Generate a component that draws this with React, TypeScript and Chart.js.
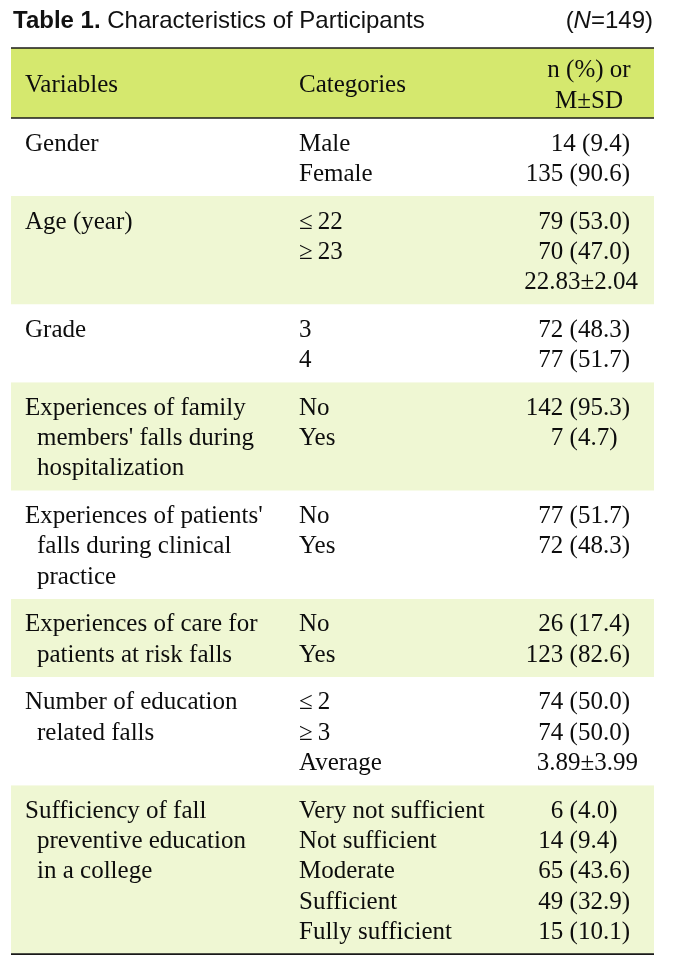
import React, { useEffect, useRef } from 'react';
import { Chart, registerables } from 'chart.js';

Chart.register(...registerables);

const titleBold = 'Table 1.';
const titleRest = ' Characteristics of Participants';
const sampleSize = ['(', 'N', '=149)'];
const headerVariables = 'Variables';
const headerCategories = 'Categories';
const headerValues = ['n (%) or', 'M±SD'];

const variables: string[][] = [
  ['Gender'],
  ['Age (year)'],
  ['Grade'],
  ['Experiences of family', "members' falls during", 'hospitalization'],
  ["Experiences of patients'", 'falls during clinical', 'practice'],
  ['Experiences of care for', 'patients at risk falls'],
  ['Number of education', 'related falls'],
  ['Sufficiency of fall', 'preventive education', 'in a college'],
];

const categories: string[][] = [
  ['Male', 'Female'],
  ['≤\u200922', '≥\u200923', ''],
  ['3', '4'],
  ['No', 'Yes'],
  ['No', 'Yes'],
  ['No', 'Yes'],
  ['≤\u20092', '≥\u20093', 'Average'],
  ['Very not sufficient', 'Not sufficient', 'Moderate', 'Sufficient', 'Fully sufficient'],
];

const values: string[][] = [
  ['14 (9.4)', '135 (90.6)'],
  ['79 (53.0)', '70 (47.0)', '22.83±2.04'],
  ['72 (48.3)', '77 (51.7)'],
  ['142 (95.3)', '7 (4.7)\u2007'],
  ['77 (51.7)', '72 (48.3)'],
  ['26 (17.4)', '123 (82.6)'],
  ['74 (50.0)', '74 (50.0)', '3.89±3.99'],
  ['6 (4.0)\u2007', '14 (9.4)\u2007', '65 (43.6)', '49 (32.9)', '15 (10.1)'],
];

const HEADER_GREEN = '#d5e86e';
const ROW_GREEN = '#eff7d3';
const SERIF = '"Liberation Serif", "Times New Roman", serif';
const SANS = '"Liberation Sans", Arial, sans-serif';

const TABLE_TOP = 48;
const HEADER_BOTTOM = 118;
const LINE_STEP = 30.3;
const GROUP_PAD = 17.4;
const FIRST_BASELINE = 32.5;

function groupLines(i: number) {
  return Math.max(variables[i].length, categories[i].length, values[i].length);
}

function groupBounds() {
  const out: [number, number][] = [];
  let y = HEADER_BOTTOM;
  for (let i = 0; i < variables.length; i++) {
    const h = GROUP_PAD + groupLines(i) * LINE_STEP;
    out.push([y, y + h]);
    y += h;
  }
  return out;
}

export default function App() {
  const ref = useRef<HTMLCanvasElement>(null);
  useEffect(() => {
    const bounds = groupBounds();
    const tableBottom = bounds[bounds.length - 1][1];
    const datasets: any[] = [
      {
        data: [[TABLE_TOP, HEADER_BOTTOM]],
        backgroundColor: HEADER_GREEN,
      },
      ...bounds.map((b, i) => ({
        data: [b],
        backgroundColor: i % 2 === 1 ? ROW_GREEN : '#ffffff',
      })),
    ].map((d) => ({
      ...d,
      borderWidth: 0,
      barPercentage: 1,
      categoryPercentage: 1,
      grouped: false,
      inflateAmount: 0,
    }));

    const tablePlugin = {
      id: 'tableText',
      afterDraw(chart: any) {
        const ctx = chart.ctx as CanvasRenderingContext2D;
        const ys = chart.scales.y;
        const area = chart.chartArea;
        const py = (v: number) => ys.getPixelForValue(v);
        ctx.save();
        ctx.fillStyle = '#111';
        ctx.textBaseline = 'alphabetic';
        // title
        const TS = 24;
        ctx.textAlign = 'left';
        ctx.font = `bold ${TS}px ${SANS}`;
        ctx.fillText(titleBold, 13, py(28));
        const wb = ctx.measureText(titleBold).width;
        ctx.font = `${TS}px ${SANS}`;
        ctx.fillText(titleRest, 13 + wb, py(28));
        // sample size, right-aligned
        const w0 = ctx.measureText(sampleSize[0]).width;
        const w2 = ctx.measureText(sampleSize[2]).width;
        ctx.font = `italic ${TS}px ${SANS}`;
        const w1 = ctx.measureText(sampleSize[1]).width;
        const x = 653 - (w0 + w1 + w2);
        ctx.font = `${TS}px ${SANS}`;
        ctx.fillText(sampleSize[0], x, py(28));
        ctx.font = `italic ${TS}px ${SANS}`;
        ctx.fillText(sampleSize[1], x + w0, py(28));
        ctx.font = `${TS}px ${SANS}`;
        ctx.fillText(sampleSize[2], x + w0 + w1, py(28));

        // rules
        ctx.strokeStyle = '#1a1a1a';
        ctx.lineWidth = 1.6;
        [TABLE_TOP, HEADER_BOTTOM, tableBottom].forEach((v) => {
          ctx.beginPath();
          ctx.moveTo(area.left, py(v));
          ctx.lineTo(area.right, py(v));
          ctx.stroke();
        });

        // header
        ctx.font = `25px ${SERIF}`;
        ctx.fillStyle = '#0d0d0d';
        ctx.textAlign = 'left';
        ctx.fillText(headerVariables, 25, py(92));
        ctx.fillText(headerCategories, 299, py(92));
        ctx.textAlign = 'center';
        ctx.fillText(headerValues[0], 589, py(77));
        ctx.fillText(headerValues[1], 589, py(108));

        // body
        bounds.forEach((b, gi) => {
          for (let li = 0; li < groupLines(gi); li++) {
            const base = py(b[0] + FIRST_BASELINE + li * LINE_STEP);
            const v = variables[gi][li];
            if (v) {
              ctx.textAlign = 'left';
              ctx.fillText(v, li === 0 ? 25 : 37, base);
            }
            const c = categories[gi][li];
            if (c) {
              ctx.textAlign = 'left';
              ctx.fillText(c, 299, base);
            }
            const val = values[gi][li];
            if (val) {
              ctx.textAlign = 'right';
              ctx.fillText(val, val.includes('±') ? 638 : 630, base);
            }
          }
        });
        ctx.restore();
      },
    };

    const chart = new Chart(ref.current!, {
      type: 'bar',
      data: { labels: ['table'], datasets },
      options: {
        animation: false,
        responsive: false,
        maintainAspectRatio: false,
        layout: { padding: { left: 11, right: 20, top: 0, bottom: 0 } },
        plugins: { legend: { display: false }, tooltip: { enabled: false }, title: { display: false } },
        scales: {
          x: { display: false },
          y: { display: false, min: 0, max: 956, reverse: true },
        },
      },
      plugins: [tablePlugin],
    });
    return () => chart.destroy();
  }, []);

  return (
    <div style={{ position: 'fixed', left: 0, top: 0, width: 674, height: 956, background: '#fff' }}>
      <canvas ref={ref} width={674} height={956} style={{ display: 'block' }} />
    </div>
  );
}
